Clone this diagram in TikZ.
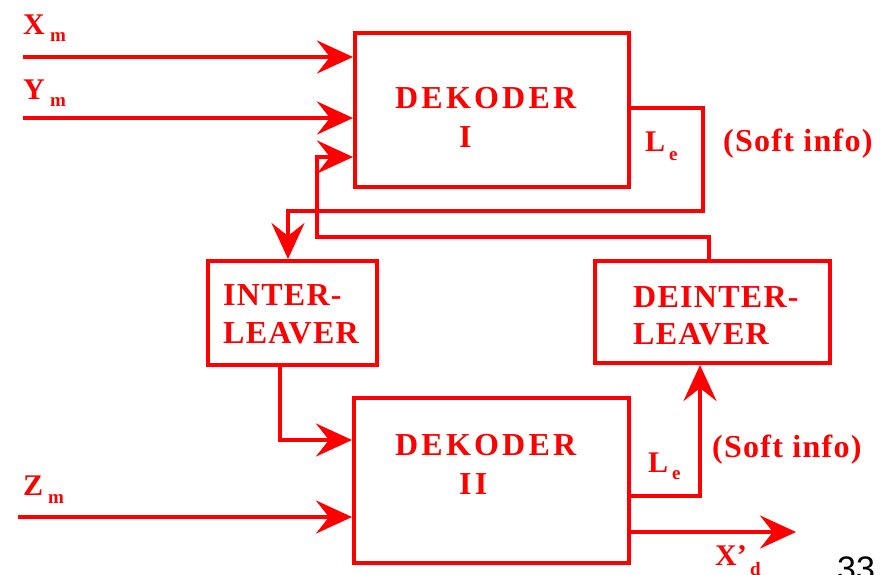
\documentclass[tikz,border=0pt]{standalone}
\usepackage{fontspec}
\setmainfont{Liberation Serif}
\newfontfamily\lsp[LetterSpace=4]{Liberation Serif}
\newfontfamily\wsp[LetterSpace=10]{Liberation Serif}
\newfontfamily\numf{Liberation Sans}
\usetikzlibrary{arrows.meta}
\definecolor{sred}{RGB}{255,0,0}
\begin{document}
\begin{tikzpicture}[x=1pt,y=-1pt,
  box/.style={draw=sred,line width=4pt,minimum width=#1,inner sep=0pt},
  arr/.style={draw=sred,line width=4pt,-{Stealth[length=36pt,width=33pt,inset=13pt]}},
  lbl/.style={text=sred,anchor=base west,inner sep=0pt,font=\lsp\bfseries\fontsize{32}{38}\selectfont},
  dlbl/.style={text=sred,anchor=base west,inner sep=0pt,font=\wsp\bfseries\fontsize{32}{38}\selectfont},
  io/.style={text=sred,anchor=base west,inner sep=0pt,font=\bfseries\fontsize{30}{36}\selectfont},
  sub/.style={text=sred,anchor=base west,inner sep=0pt,font=\bfseries\fontsize{19}{22}\selectfont}]
\useasboundingbox (0,0) rectangle (895,575);
% boxes
\node[box=274pt,minimum height=154pt] (dek1) at (492,110) {};
\node[box=275pt,minimum height=165pt] (dek2) at (491.5,480.5) {};
\node[box=169pt,minimum height=104pt] (inter) at (292.5,313) {};
\node[box=235pt,minimum height=102pt] (deint) at (712.5,312) {};
% box texts
\node[dlbl] (t1a) at (395,109) {DEKODER};
\node[dlbl] (t1b) at (459,148) {I};
\node[dlbl] (t2a) at (395,455) {DEKODER};
\node[dlbl] (t2b) at (459,494) {II};
\node[lbl] (t3a) at (223,305) {INTER-};
\node[lbl] (t3b) at (223,343) {LEAVER};
\node[lbl] (t4a) at (633,307) {DEINTER-};
\node[lbl] (t4b) at (633,344) {LEAVER};
% coordinates
\coordinate (xin) at (23,57);
\coordinate (yin) at (23,118);
\coordinate (zin) at (18,517);
\coordinate (o1) at (703,108);
\coordinate (o2) at (703,211);
\coordinate (o3) at (288,211);
\coordinate (f1) at (709,237);
\coordinate (f2) at (317,237);
\coordinate (f3) at (317,157);
\coordinate (g1) at (280,440);
\coordinate (h1) at (700,496);
\coordinate (xout) at (796,532);
% connectors
\draw[arr] (xin) -- (xin -| dek1.west);
\draw[arr] (yin) -- (yin -| dek1.west);
\draw[arr] (zin) -- (zin -| dek2.west);
\draw[arr] (o1 -| dek1.east) -- (o1) -- (o2) -- (o3) -- (o3 |- inter.north);
\draw[arr] (f1 |- deint.north) -- (f1) -- (f2) -- (f3) -- (f3 -| dek1.west);
\draw[arr] (g1 |- inter.south) -- (g1) -- (g1 -| dek2.west);
\draw[arr] (h1 -| dek2.east) -- (h1) -- (h1 |- deint.south);
\draw[arr] (xout -| dek2.east) -- (xout);
% io labels
\node[io] (lx) at (23,35) {X};
\node[sub] (lxs) at (50,42) {m};
\node[io] (ly) at (23,100) {Y};
\node[sub] (lys) at (50,107) {m};
\node[io] (lz) at (23,495) {Z};
\node[sub] (lzs) at (48,503) {m};
\node[io] (le1) at (645,152) {L};
\node[sub] (le1s) at (669,161) {e};
\node[io] (le2) at (648,472) {L};
\node[sub] (le2s) at (672,479) {e};
\node[lbl] (si1) at (723,152) {(Soft info)};
\node[lbl] (si2) at (712,457) {(Soft info)};
\node[io] (xd) at (715,565) {X\char"0027};
\node[sub] (xds) at (750,575) {d};
\node[anchor=base west,inner sep=0pt,font=\numf\fontsize{34}{40}\selectfont] (pg) at (837,580) {33};
\end{tikzpicture}
\end{document}
